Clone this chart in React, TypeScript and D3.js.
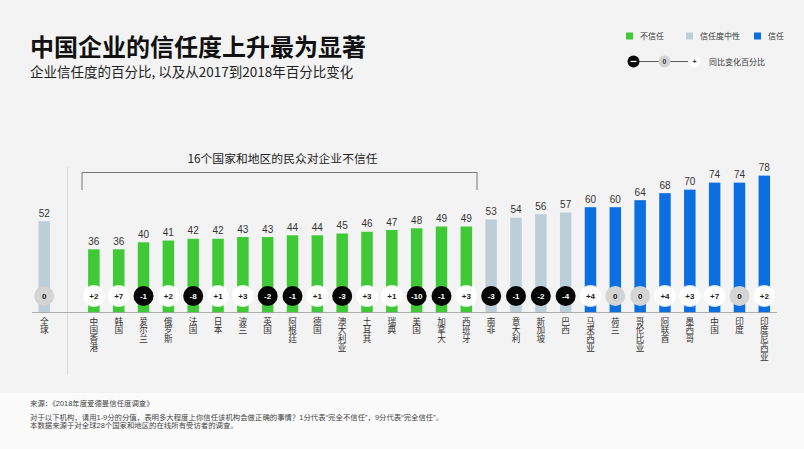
import React from "react";
import * as d3 from "d3";

const countries = ["全球", "中国香港", "韩国", "爱尔兰", "俄罗斯", "法国", "日本", "波兰", "英国", "阿根廷", "德国", "澳大利亚", "土耳其", "瑞典", "美国", "加拿大", "西班牙", "南非", "意大利", "新加坡", "巴西", "马来西亚", "荷兰", "哥伦比亚", "阿联酋", "墨西哥", "中国", "印度", "印度尼西亚"];
const trustValues = [52, 36, 36, 40, 41, 42, 42, 43, 43, 44, 44, 45, 46, 47, 48, 49, 49, 53, 54, 56, 57, 60, 60, 64, 68, 70, 74, 74, 78];
const changeValues = [0, 2, 7, -1, 2, -8, 1, 3, -2, -1, 1, -3, 3, 1, -10, -1, 3, -3, -1, -2, -4, 4, 0, 0, 4, 3, 7, 0, 2];

const legendItems = ["不信任", "信任度中性", "信任"];
const colors = { distrust: "#3fc937", neutral: "#bccfd9", trust: "#0b6fe2" };

const FONT = "'Noto Sans CJK SC', 'Liberation Sans', Arial, sans-serif";
const NUMFONT = "'Liberation Sans', Arial, sans-serif";
const FOOTFONT = "'Liberation Sans', 'Noto Sans CJK SC', Arial, sans-serif";

function barColor(v: number) {
  if (v < 50) return colors.distrust;
  if (v < 60) return colors.neutral;
  return colors.trust;
}

export default function App() {
  const W = 804, H = 449;
  const baseY = 312.5;
  const domain = [countries[0], "__gap", ...countries.slice(1)];
  const x = d3.scalePoint<string>().domain(domain).range([44.2, 764.3]);
  const y = d3.scaleLinear().domain([0, 100]).range([baseY, baseY - 175.5]);
  const barW = 11.5;
  const circleY = 296;

  const fmt = (c: number) => (c > 0 ? "+" + c : c === 0 ? "0" : "-" + Math.abs(c));

  return (
    <svg width={W} height={H} style={{ position: "absolute", left: 0, top: 0 }}>
      <defs>
        <filter id="soft" x="-50%" y="-50%" width="200%" height="200%">
          <feGaussianBlur stdDeviation="0.6" />
        </filter>
      </defs>
      <rect x={0} y={0} width={W} height={H} fill="#f3f3f3" />
      <rect x={0} y={393} width={W} height={H - 393} fill="#fbfbfb" />

      {/* Title */}
      <text x={30} y={56} fontFamily={FONT} fontSize={24} fontWeight="bold" fill="#111">中国企业的信任度上升最为显著</text>
      <text x={30} y={77} fontFamily={FONT} fontSize={13.5} fill="#222">企业信任度的百分比, 以及从2017到2018年百分比变化</text>

      {/* Legend */}
      {legendItems.map((l, i) => {
        const lx = [626, 686, 754][i];
        const c = [colors.distrust, colors.neutral, colors.trust][i];
        return (
          <g key={l}>
            <rect x={lx} y={32.5} width={7} height={7} fill={c} />
            <text x={lx + 14} y={39} fontFamily={FONT} fontSize={8} fill="#333">{l}</text>
          </g>
        );
      })}
      <line x1={639} x2={659} y1={61.5} y2={61.5} stroke="#333" strokeWidth={0.8} />
      <line x1={670} x2={688} y1={61.5} y2={61.5} stroke="#333" strokeWidth={0.8} />
      <circle cx={633.5} cy={61.5} r={6} fill="#0a0a0a" />
      <line x1={630.5} x2={636.5} y1={61.5} y2={61.5} stroke="#fff" strokeWidth={1.2} />
      <circle cx={664.5} cy={61.5} r={6} fill="#d3d3d3" />
      <text x={664.5} y={64} textAnchor="middle" fontFamily={NUMFONT} fontSize={7} fontWeight="bold" fill="#333">0</text>
      <circle cx={694.5} cy={61.5} r={6} fill="#fff" />
      <text x={694.5} y={64} textAnchor="middle" fontFamily={NUMFONT} fontSize={7} fontWeight="bold" fill="#333">+</text>
      <text x={709} y={64.5} fontFamily={FONT} fontSize={8} fill="#333">同比变化百分比</text>

      {/* Bracket */}
      <path d="M82,190 V172.5 H477 V190" fill="none" stroke="#666" strokeWidth={0.9} />
      <text x={282.5} y={163} textAnchor="middle" fontFamily={FONT} fontSize={11.8} fill="#222">16个国家和地区的民众对企业不信任</text>

      {/* Divider */}
      <line x1={67.5} x2={67.5} y1={167} y2={375} stroke="#dcdcdc" strokeWidth={1} />

      {/* Bars */}
      {countries.map((c, i) => {
        const cx = x(c)!;
        const v = trustValues[i];
        const ch = changeValues[i];
        const circleFill = ch < 0 ? "#050505" : ch === 0 ? "#d4d4d4" : "#ffffff";
        const txtFill = ch < 0 ? "#ffffff" : "#222";
        return (
          <g key={c}>
            <rect x={cx - barW / 2} y={y(v)} width={barW} height={baseY - y(v)} fill={barColor(v)} />
            <text x={cx} y={y(v) - 4.5} textAnchor="middle" fontFamily={NUMFONT} fontSize={10} fill="#333">{v}</text>
            {ch > 0 && <circle cx={cx} cy={circleY} r={11} fill="#ffffff" opacity={0.8} filter="url(#soft)" />}
            <circle cx={cx} cy={circleY} r={10} fill={circleFill} />
            <text x={cx} y={circleY + 2.8} textAnchor="middle" fontFamily={NUMFONT} fontSize={8} fontWeight="bold" fill={txtFill}>{fmt(ch)}</text>
            <text x={cx} y={317} fontFamily={FONT} fontSize={8.6} fill="#333"
              style={{ writingMode: "vertical-rl", textOrientation: "upright", letterSpacing: "0.2px" } as any}>{c}</text>
          </g>
        );
      })}

      {/* Axis baseline */}
      <line x1={32} x2={777} y1={baseY} y2={baseY} stroke="#9a9a9a" strokeWidth={0.8} />

      {/* Footer */}
      <text x={30} y={406} fontFamily={FOOTFONT} fontSize={7.4} fill="#444">来源：《2018年度爱德曼信任度调查》</text>
      <text x={30} y={419.5} fontFamily={FOOTFONT} fontSize={7.4} fill="#444">对于以下机构，请用1-9分的分值，表明多大程度上你信任该机构会做正确的事情？1分代表“完全不信任”，9分代表“完全信任”。</text>
      <text x={30} y={428.3} fontFamily={FOOTFONT} fontSize={7.4} fill="#444">本数据来源于对全球28个国家和地区的在线所有受访者的调查。</text>
    </svg>
  );
}
